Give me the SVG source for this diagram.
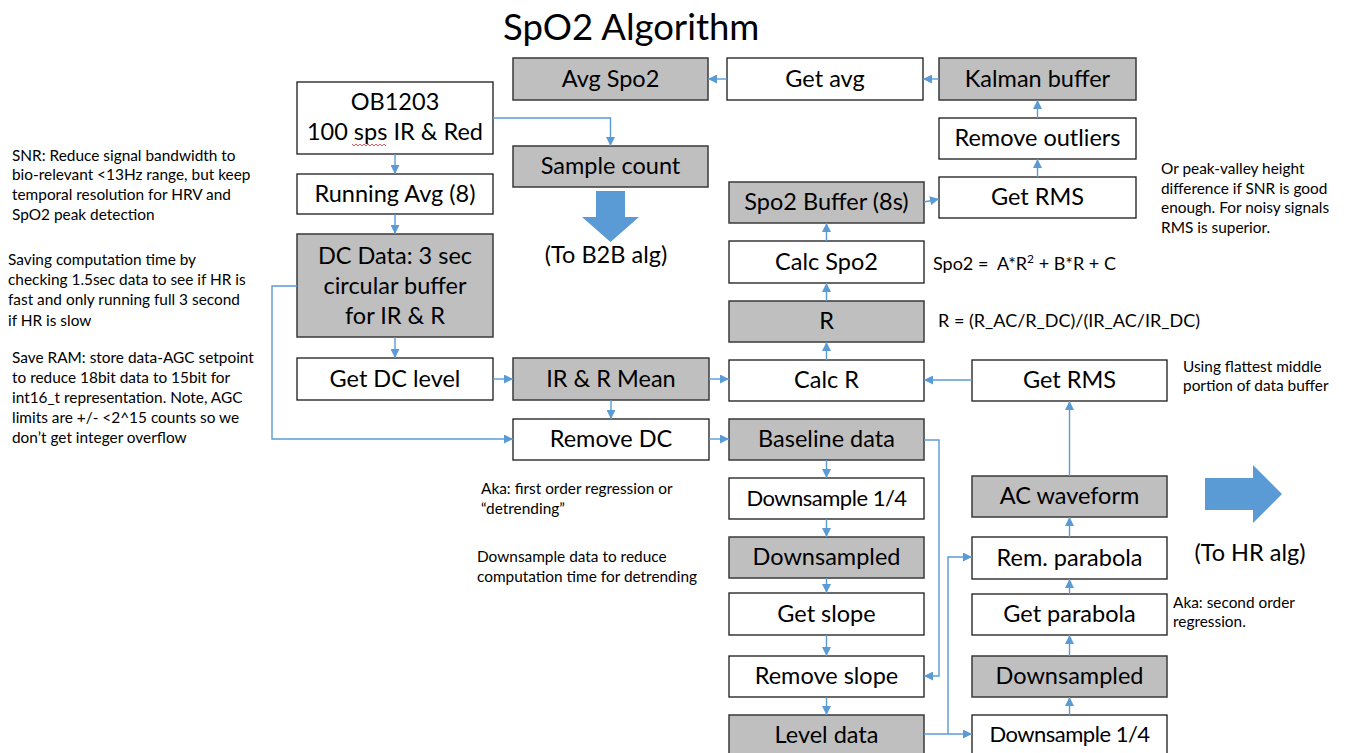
<svg xmlns="http://www.w3.org/2000/svg" width="1349" height="753" viewBox="0 0 1349 753">
  <defs>
    <style>
      text { font-family: Lato, "Open Sans", "Liberation Sans", sans-serif; fill: #000; }
      .box { fill: #ffffff; stroke: #1a1a1a; stroke-width: 1.3; }
      .gbox { fill: #bfbfbf; stroke: #3a3a3a; stroke-width: 1.5; }
      .lbl { font-size: 23.5px; text-anchor: middle; }
      .tight { font-size: 22px; letter-spacing: -0.5px; }
      .note { font-size: 15.4px; }
      .formula { font-size: 18px; }
      .title { font-size: 36.5px; }
      .conn { fill: none; stroke: #5b9bd5; stroke-width: 1.4; marker-end: url(#ah); }
      .big { fill: #5b9bd5; }
    </style>
    <marker id="ah" viewBox="0 0 10 10" refX="10" refY="5" markerUnits="userSpaceOnUse" markerWidth="9" markerHeight="9" orient="auto">
      <path d="M0,0 L10,5 L0,10 Z" fill="#5b9bd5"/>
    </marker>
  </defs>

  <rect width="1349" height="753" fill="#ffffff"/>

  <text class="title" x="503" y="40">SpO2 Algorithm</text>

  <!-- side notes -->
  <g id="notes" class="note">
    <text x="12" y="161">SNR: Reduce signal bandwidth to</text>
    <text x="12" y="180">bio-relevant &lt;13Hz range, but keep</text>
    <text x="12" y="200">temporal resolution for HRV and</text>
    <text x="12" y="220">SpO2 peak detection</text>
    <text x="8" y="265">Saving computation time by</text>
    <text x="8" y="285">checking 1.5sec data to see if HR is</text>
    <text x="8" y="305">fast and only running full 3 second</text>
    <text x="8" y="326">if HR is slow</text>
    <text x="12" y="363">Save RAM: store data-AGC setpoint</text>
    <text x="12" y="383">to reduce 18bit data to 15bit for</text>
    <text x="12" y="403">int16_t representation. Note, AGC</text>
    <text x="12" y="423">limits are +/- &lt;2^15 counts so we</text>
    <text x="12" y="443">don’t get integer overflow</text>
    <text x="481" y="494">Aka: first order regression or</text>
    <text x="481" y="514">“detrending”</text>
    <text x="477" y="562">Downsample data to reduce</text>
    <text x="477" y="582">computation time for detrending</text>
    <text x="1161" y="174">Or peak-valley height</text>
    <text x="1161" y="194">difference if SNR is good</text>
    <text x="1161" y="213">enough. For noisy signals</text>
    <text x="1161" y="233">RMS is superior.</text>
    <text x="1183" y="372">Using flattest middle</text>
    <text x="1183" y="391">portion of data buffer</text>
    <text x="1173" y="608">Aka: second order</text>
    <text x="1173" y="627">regression.</text>
  </g>
  <g id="formulas" class="formula">
    <text x="933" y="270">Spo2 =&#160; A*R<tspan dy="-7" style="font-size:12px">2</tspan><tspan dy="7"> + B*R + C</tspan></text>
    <text x="938" y="327">R = (R_AC/R_DC)/(IR_AC/IR_DC)</text>
  </g>

  <!-- left column -->
  <g id="ob1203">
    <rect class="box" x="297" y="82" width="196" height="72"/>
    <text class="lbl" x="395" y="110">OB1203</text>
    <text class="lbl" x="395" y="140">100 sps IR &amp; Red</text>
    <path d="M352,144 l2,2 l2,-2 l2,2 l2,-2 l2,2 l2,-2 l2,2 l2,-2 l2,2 l2,-2 l2,2 l2,-2 l2,2 l2,-2 l2,2 l2,-2 l2,2" fill="none" stroke="#e03030" stroke-width="0.8"/>
  </g>
  <g id="running-avg">
    <rect class="box" x="297" y="174" width="196" height="40"/>
    <text class="lbl" x="395" y="202">Running Avg (8)</text>
  </g>
  <g id="dc-data">
    <rect class="gbox" x="297" y="234" width="196" height="103"/>
    <text class="lbl" x="395" y="264">DC Data: 3 sec</text>
    <text class="lbl" x="395" y="294">circular buffer</text>
    <text class="lbl" x="395" y="324">for IR &amp; R</text>
  </g>
  <g id="get-dc-level">
    <rect class="box" x="297" y="358" width="196" height="42"/>
    <text class="lbl" x="395" y="387">Get DC level</text>
  </g>

  <!-- second column -->
  <g id="avg-spo2">
    <rect class="gbox" x="513" y="58" width="195" height="42"/>
    <text class="lbl" x="610.5" y="87">Avg Spo2</text>
  </g>
  <g id="sample-count">
    <rect class="gbox" x="513" y="146" width="195" height="41"/>
    <text class="lbl" x="610.5" y="174">Sample count</text>
  </g>
  <g id="to-b2b">
    <path class="big" d="M596,191 H625 V217 H639 L610.5,242 L582,217 H596 Z"/>
    <text class="lbl" x="606" y="263">(To B2B alg)</text>
  </g>
  <g id="ir-r-mean">
    <rect class="gbox" x="513" y="358" width="196" height="42"/>
    <text class="lbl" x="611" y="387">IR &amp; R Mean</text>
  </g>
  <g id="remove-dc">
    <rect class="box" x="513" y="419" width="196" height="41"/>
    <text class="lbl" x="611" y="447">Remove DC</text>
  </g>

  <!-- third column -->
  <g id="get-avg">
    <rect class="box" x="727" y="58" width="196" height="42"/>
    <text class="lbl" x="825" y="87">Get avg</text>
  </g>
  <g id="spo2-buffer">
    <rect class="gbox" x="729" y="182" width="195" height="41"/>
    <text class="lbl" x="826.5" y="210">Spo2 Buffer (8s)</text>
  </g>
  <g id="calc-spo2">
    <rect class="box" x="729" y="241" width="195" height="42"/>
    <text class="lbl" x="826.5" y="270">Calc Spo2</text>
  </g>
  <g id="r">
    <rect class="gbox" x="729" y="301" width="195" height="41"/>
    <text class="lbl" x="826.5" y="329">R</text>
  </g>
  <g id="calc-r">
    <rect class="box" x="729" y="360" width="195" height="41"/>
    <text class="lbl" x="826.5" y="388">Calc R</text>
  </g>
  <g id="baseline-data">
    <rect class="gbox" x="729" y="419" width="195" height="41"/>
    <text class="lbl" x="826.5" y="447">Baseline data</text>
  </g>
  <g id="downsample-a">
    <rect class="box" x="729" y="478" width="195" height="41"/>
    <text class="lbl tight" x="826.5" y="506">Downsample 1/4</text>
  </g>
  <g id="downsampled-a">
    <rect class="gbox" x="729" y="537" width="195" height="41"/>
    <text class="lbl" x="826.5" y="565">Downsampled</text>
  </g>
  <g id="get-slope">
    <rect class="box" x="729" y="593" width="195" height="42"/>
    <text class="lbl" x="826.5" y="622">Get slope</text>
  </g>
  <g id="remove-slope">
    <rect class="box" x="729" y="656" width="195" height="41"/>
    <text class="lbl" x="826.5" y="684">Remove slope</text>
  </g>
  <g id="level-data">
    <rect class="gbox" x="729" y="715" width="195" height="44"/>
    <text class="lbl" x="826.5" y="743">Level data</text>
  </g>

  <!-- fourth column -->
  <g id="kalman-buffer">
    <rect class="gbox" x="939" y="58" width="197" height="42"/>
    <text class="lbl" x="1037.5" y="87">Kalman buffer</text>
  </g>
  <g id="remove-outliers">
    <rect class="box" x="939" y="118" width="197" height="41"/>
    <text class="lbl" x="1037.5" y="146">Remove outliers</text>
  </g>
  <g id="get-rms-a">
    <rect class="box" x="939" y="177" width="197" height="41"/>
    <text class="lbl" x="1037.5" y="205">Get RMS</text>
  </g>
  <g id="get-rms-b">
    <rect class="box" x="972" y="360" width="195" height="41"/>
    <text class="lbl" x="1069.5" y="388">Get RMS</text>
  </g>
  <g id="ac-waveform">
    <rect class="gbox" x="972" y="476" width="195" height="41"/>
    <text class="lbl" x="1069.5" y="504">AC waveform</text>
  </g>
  <g id="rem-parabola">
    <rect class="box" x="972" y="537" width="195" height="42"/>
    <text class="lbl" x="1069.5" y="566">Rem. parabola</text>
  </g>
  <g id="get-parabola">
    <rect class="box" x="972" y="594" width="195" height="41"/>
    <text class="lbl" x="1069.5" y="622">Get parabola</text>
  </g>
  <g id="downsampled-b">
    <rect class="gbox" x="972" y="656" width="195" height="41"/>
    <text class="lbl" x="1069.5" y="684">Downsampled</text>
  </g>
  <g id="downsample-b">
    <rect class="box" x="972" y="715" width="195" height="44"/>
    <text class="lbl tight" x="1069.5" y="742">Downsample 1/4</text>
  </g>
  <g id="to-hr">
    <path class="big" d="M1205,478 H1253 V465 L1282,494 L1253,523 V510 H1205 Z"/>
    <text class="lbl" x="1250" y="561">(To HR alg)</text>
  </g>

  <!-- connectors -->
  <g id="connectors">
    <path class="conn" d="M395,154 V174"/>
    <path class="conn" d="M395,214 V234"/>
    <path class="conn" d="M395,337 V358"/>
    <path class="conn" d="M493,118 H610.5 V146"/>
    <path class="conn" d="M297,286 H272 V439 H513"/>
    <path class="conn" d="M493,379 H513"/>
    <path class="conn" d="M709,379 H729"/>
    <path class="conn" d="M611,400 V419"/>
    <path class="conn" d="M709,439 H729"/>
    <path class="conn" d="M826.5,460 V478"/>
    <path class="conn" d="M826.5,519 V537"/>
    <path class="conn" d="M826.5,578 V593"/>
    <path class="conn" d="M826.5,635 V656"/>
    <path class="conn" d="M826.5,697 V715"/>
    <path class="conn" d="M924,440 H939 V676 H924"/>
    <path class="conn" d="M924,734 H972"/>
    <path class="conn" d="M948,734 V557 H972"/>
    <path class="conn" d="M1069.5,715 V697"/>
    <path class="conn" d="M1069.5,656 V635"/>
    <path class="conn" d="M1069.5,594 V579"/>
    <path class="conn" d="M1069.5,537 V517"/>
    <path class="conn" d="M1069.5,476 V401"/>
    <path class="conn" d="M972,380 H924"/>
    <path class="conn" d="M826.5,360 V342"/>
    <path class="conn" d="M826.5,301 V283"/>
    <path class="conn" d="M826.5,241 V223"/>
    <path class="conn" d="M924,202 L939,199"/>
    <path class="conn" d="M1037.5,177 V159"/>
    <path class="conn" d="M1037.5,118 V100"/>
    <path class="conn" d="M939,79 H923"/>
    <path class="conn" d="M727,79 H708"/>
  </g>
</svg>
